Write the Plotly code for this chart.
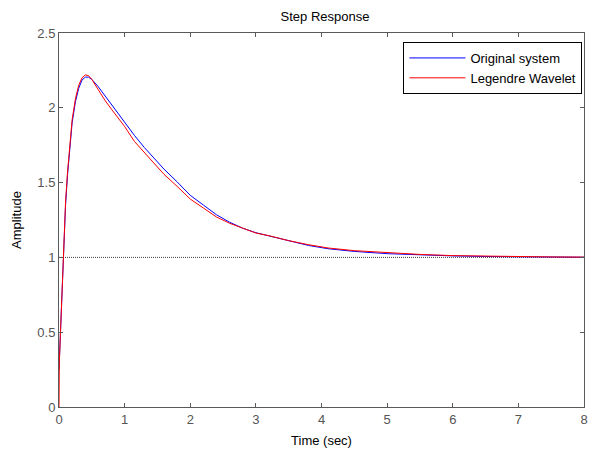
import plotly.graph_objects as go

# Step response of the original system (blue)
t_orig = [0.00, 0.02, 0.04, 0.06, 0.08, 0.10, 0.13, 0.16, 0.20, 0.25, 0.30, 0.35,
          0.40, 0.45, 0.50, 0.60, 0.70, 0.80, 0.90, 1.00, 1.15, 1.30, 1.45, 1.60,
          1.80, 2.00, 2.20, 2.40, 2.60, 2.80, 3.00, 3.20, 3.50, 3.80, 4.10, 4.50,
          5.00, 5.50, 6.00, 6.50, 7.00, 7.50, 8.00]
y_orig = [0.25, 0.46, 0.70, 0.97, 1.18, 1.35, 1.55, 1.72, 1.90, 2.04, 2.13, 2.185,
          2.205, 2.205, 2.19, 2.14, 2.08, 2.02, 1.965, 1.905, 1.815, 1.735, 1.66, 1.59,
          1.505, 1.415, 1.35, 1.285, 1.235, 1.195, 1.165, 1.145, 1.11, 1.08, 1.058, 1.04,
          1.025, 1.016, 1.01, 1.006, 1.003, 1.002, 1.001]

# Step response of the Legendre wavelet approximation (red)
t_lw = [0.000, 0.005, 0.02, 0.04, 0.06, 0.08, 0.10, 0.13, 0.16, 0.20, 0.25, 0.30,
        0.35, 0.40, 0.45, 0.50, 0.60, 0.70, 0.80, 0.90, 1.00, 1.15, 1.30, 1.45,
        1.60, 1.80, 2.00, 2.20, 2.40, 2.60, 2.80, 3.00, 3.20, 3.50, 3.80, 4.10,
        4.50, 5.00, 5.50, 6.00, 6.50, 7.00, 7.50, 8.00]
y_lw = [0.00, 0.30, 0.47, 0.71, 0.98, 1.20, 1.37, 1.57, 1.74, 1.92, 2.06, 2.15,
        2.20, 2.22, 2.215, 2.19, 2.12, 2.05, 1.99, 1.93, 1.875, 1.775, 1.70, 1.625,
        1.555, 1.475, 1.39, 1.33, 1.27, 1.228, 1.193, 1.163, 1.145, 1.112, 1.085, 1.063,
        1.045, 1.03, 1.02, 1.012, 1.008, 1.005, 1.003, 1.002]

# Steady-state reference level
steady_x = [0, 8]
steady_y = [1, 1]

font = "Liberation Sans, Arial, sans-serif"
axis_color = "#5a5a5a"

fig = go.Figure()
fig.add_trace(go.Scatter(x=steady_x, y=steady_y, mode="lines", showlegend=False,
                         line=dict(color="#444444", width=1, dash="1px,1px"),
                         hoverinfo="skip"))
fig.add_trace(go.Scatter(x=t_orig, y=y_orig, mode="lines", name="Original system",
                         line=dict(color="#0000ff", width=1)))
fig.add_trace(go.Scatter(x=t_lw, y=y_lw, mode="lines", name="Legendre Wavelet",
                         line=dict(color="#ff0000", width=1)))

axis_common = dict(
    showline=True, linecolor=axis_color, linewidth=1, mirror="ticks",
    ticks="inside", ticklen=4, tickcolor=axis_color, tickwidth=1,
    showgrid=False, zeroline=False,
    tickfont=dict(family=font, size=13, color="#555555"),
)

fig.update_layout(
    width=592, height=450,
    margin=dict(l=59, r=4, t=33, b=43),
    paper_bgcolor="white", plot_bgcolor="white",
    title=dict(text="Step Response", x=0.549, xanchor="center", y=0.963, yanchor="middle",
               font=dict(family=font, size=13, color="black")),
    xaxis=dict(range=[0, 8], dtick=1, tick0=0,
               title=dict(text="Time (sec)", standoff=10,
                          font=dict(family=font, size=13, color="black")),
               **axis_common),
    yaxis=dict(range=[0, 2.5], dtick=0.5, tick0=0,
               title=dict(text="Amplitude", standoff=12,
                          font=dict(family=font, size=13, color="black")),
               **axis_common),
    legend=dict(x=0.997, xanchor="right", y=0.976, yanchor="top",
                bgcolor="white", bordercolor="black", borderwidth=1,
                font=dict(family=font, size=13, color="black"),
                itemwidth=56, tracegroupgap=0),
    showlegend=True,
)

fig.write_html("out.html")
